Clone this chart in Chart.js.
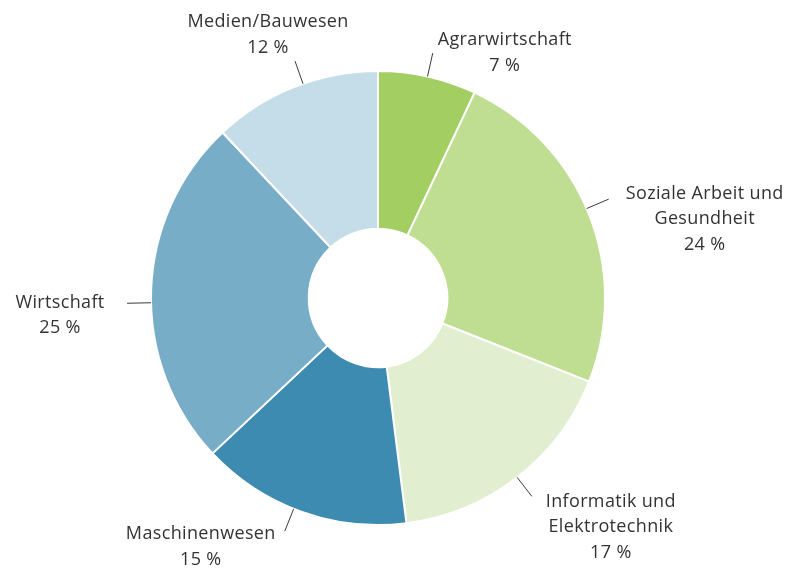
<!DOCTYPE html>
<html lang="de">
<head>
<meta charset="utf-8">
<title>Fachbereiche</title>
<script src="https://cdn.jsdelivr.net/npm/chart.js@4"></script>
<style>
  html, body { margin: 0; padding: 0; background: #fff; }
  #chart { display: block; }
</style>
</head>
<body>
<canvas id="chart" width="795" height="568"></canvas>
<script>
// --- Data ---
const categories = [
  ['Agrarwirtschaft'],
  ['Soziale Arbeit und', 'Gesundheit'],
  ['Informatik und', 'Elektrotechnik'],
  ['Maschinenwesen'],
  ['Wirtschaft'],
  ['Medien/Bauwesen']
];
const shares = [7, 24, 17, 15, 25, 12];
const sliceColors = ['#a3cf62', '#c0de91', '#e1efd0', '#3d8bb0', '#78adc8', '#c5dde8'];

// --- Label layout (leader line tweak in degrees, text block offset from line end) ---
const lineAngleShift = [0, -1.6, 0, 2, -3, 2.3];
const labelOffsetX = [72, 96, 79, -84, -67, -27];
const labelOffsetY = [0, 20, 31, 16, 12, -26];
const LINE_LEN = 24;
const LINE_HEIGHT = 25.5;

const leaderLabels = {
  id: 'leaderLabels',
  afterDatasetsDraw(chart) {
    const ctx = chart.ctx;
    const arcs = chart.getDatasetMeta(0).data;
    ctx.save();
    ctx.font = '18px "Open Sans", sans-serif';
    ctx.letterSpacing = '0.35px';
    ctx.fillStyle = '#333333';
    ctx.strokeStyle = '#3a3a3a';
    ctx.lineWidth = 1;
    ctx.textAlign = 'center';
    ctx.textBaseline = 'middle';
    arcs.forEach((arc, i) => {
      const mid = (arc.startAngle + arc.endAngle) / 2 + lineAngleShift[i] * Math.PI / 180;
      const r0 = arc.outerRadius;
      const r1 = r0 + LINE_LEN;
      const x0 = arc.x + Math.cos(mid) * r0, y0 = arc.y + Math.sin(mid) * r0;
      const x1 = arc.x + Math.cos(mid) * r1, y1 = arc.y + Math.sin(mid) * r1;
      ctx.beginPath();
      ctx.moveTo(x0, y0);
      ctx.lineTo(x1, y1);
      ctx.stroke();

      const lines = categories[i].concat([shares[i] + ' %']);
      const cx = x1 + labelOffsetX[i];
      const cy = y1 + labelOffsetY[i];
      const top = cy - (lines.length - 1) * LINE_HEIGHT / 2;
      lines.forEach((t, k) => ctx.fillText(t, cx, top + k * LINE_HEIGHT));
    });
    ctx.restore();
  }
};

new Chart(document.getElementById('chart'), {
  type: 'doughnut',
  data: {
    labels: categories.map(c => c.join(' ')),
    datasets: [{
      data: shares,
      backgroundColor: sliceColors,
      borderColor: '#ffffff',
      borderWidth: 2,
      hoverOffset: 0
    }]
  },
  options: {
    responsive: false,
    animation: false,
    cutout: '30.5%',
    layout: { padding: { top: 70, bottom: 42, left: 150, right: 189 } },
    plugins: {
      legend: { display: false },
      tooltip: { enabled: false }
    }
  },
  plugins: [leaderLabels]
});
</script>
</body>
</html>
